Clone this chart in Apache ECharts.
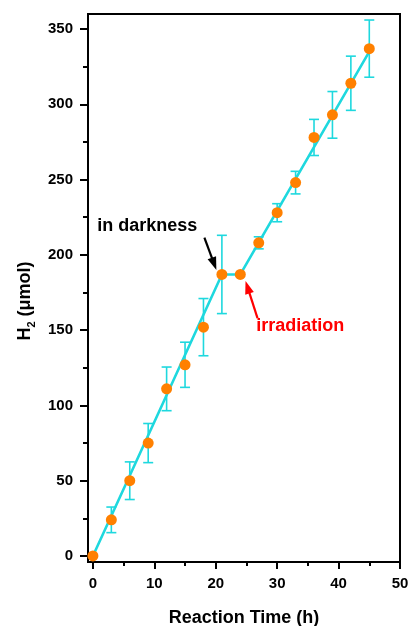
<!DOCTYPE html>
<html>
<head>
<meta charset="utf-8">
<script src="https://cdn.jsdelivr.net/npm/echarts@6/dist/echarts.min.js"></script>
<style>
html,body{margin:0;padding:0;background:#fff;}
#chart{width:409px;height:626px;}
</style>
</head>
<body>
<div id="chart"></div>
<script>
// ---- data ----
var times = [0, 3, 6, 9, 12, 15, 18, 21, 24, 27, 30, 33, 36, 39, 42, 45];
var h2 = [0, 24, 50, 75, 111, 127, 152, 187, 187, 208, 228, 248, 278, 293, 314, 337];
var errs = [0, 8.5, 12.5, 13, 14.5, 15, 19, 26, 0, 4, 6, 7.5, 12, 15.5, 18, 19];
// fitted line segments (dark period flat)
var fitX = [0, 21, 24, 45];
var fitY = [0, 187, 187, 335];
var xMajor = [0, 10, 20, 30, 40, 50];
var xMinor = [5, 15, 25, 35, 45];
var yMajor = [0, 50, 100, 150, 200, 250, 300, 350];
var yMinor = [25, 75, 125, 175, 225, 275, 325];
var annTexts = ['in darkness', 'irradiation'];
var annPos = [[0.7, 219], [26.6, 153]];
var arrowFrom = [[18.15, 211.5], [26.8, 158]];
var arrowTo = [[20.1, 190], [24.85, 182.7]];

var CYAN = '#1ED8DE';
var ORANGE = '#FF8000';
var FONT = 'Liberation Sans, Arial, sans-serif';
var ANN_COLORS = ['#000000', '#FF0000'];

var pts = times.map(function (t, i) { return [t, h2[i]]; });
var errData = times.map(function (t, i) { return [t, h2[i] - errs[i], h2[i] + errs[i]]; });
var fitData = fitX.map(function (x, i) { return [x, fitY[i]]; });
var arrowData = arrowFrom.map(function (p, i) { return [p[0], p[1], arrowTo[i][0], arrowTo[i][1], i]; });
var annData = annPos.map(function (p, i) { return [p[0], p[1], i]; });

var chart = echarts.init(document.getElementById('chart'), null, {renderer: 'canvas'});

var baseX = {type: 'value', min: -0.8, max: 50, gridIndex: 0, splitLine: {show: false}};
var baseY = {type: 'value', min: -4, max: 360, gridIndex: 0, splitLine: {show: false}};

chart.setOption({
  animation: false,
  backgroundColor: '#fff',
  grid: {left: 88, right: 9, top: 14, bottom: 64, show: true, borderColor: '#000', borderWidth: 2,
         containLabel: false, outerBoundsMode: 'none'},
  xAxis: [
    Object.assign({}, baseX, {
      position: 'bottom',
      name: 'Reaction Time (h)', nameLocation: 'middle', nameGap: 47,
      nameTextStyle: {fontFamily: FONT, fontWeight: 'bold', fontSize: 18, color: '#000'},
      axisLine: {show: true, onZero: false, lineStyle: {color: '#000', width: 2}},
      axisTick: {show: true, inside: false, length: 7, lineStyle: {color: '#000', width: 2}, customValues: xMajor},
      axisLabel: {show: true, margin: 14, fontFamily: FONT, fontWeight: 'bold', fontSize: 15, color: '#000', customValues: xMajor}
    }),
    Object.assign({}, baseX, {
      position: 'bottom',
      axisLine: {show: false, onZero: false},
      axisTick: {show: true, inside: false, length: 4, lineStyle: {color: '#000', width: 2}, customValues: xMinor},
      axisLabel: {show: false}
    })
  ],
  yAxis: [
    Object.assign({}, baseY, {
      position: 'left',
      name: '{a|H}{s|2}{a| (μmol)}', nameLocation: 'middle', nameGap: 51,
      nameTextStyle: {
        fontFamily: FONT, fontWeight: 'bold', fontSize: 18, color: '#000',
        padding: [0, 26, 0, 0],
        rich: {
          a: {fontFamily: FONT, fontWeight: 'bold', fontSize: 18, color: '#000', lineHeight: 24},
          s: {fontFamily: FONT, fontWeight: 'bold', fontSize: 11, color: '#000', lineHeight: 12, verticalAlign: 'bottom'}
        }
      },
      axisLine: {show: true, onZero: false, lineStyle: {color: '#000', width: 2}},
      axisTick: {show: true, inside: false, length: 8, lineStyle: {color: '#000', width: 2}, customValues: yMajor},
      axisLabel: {show: true, margin: 15, fontFamily: FONT, fontWeight: 'bold', fontSize: 15, color: '#000', customValues: yMajor}
    }),
    Object.assign({}, baseY, {
      position: 'left',
      axisLine: {show: false, onZero: false},
      axisTick: {show: true, inside: false, length: 5, lineStyle: {color: '#000', width: 2}, customValues: yMinor},
      axisLabel: {show: false}
    })
  ],
  series: [
    {
      type: 'line', xAxisIndex: 0, yAxisIndex: 0,
      data: fitData, showSymbol: false, symbol: 'none',
      lineStyle: {color: CYAN, width: 2.6}, z: 2
    },
    {
      type: 'custom', xAxisIndex: 0, yAxisIndex: 0, z: 3,
      data: errData,
      renderItem: function (params, api) {
        var x = api.value(0);
        var lo = api.coord([x, api.value(1)]);
        var hi = api.coord([x, api.value(2)]);
        if (Math.abs(lo[1] - hi[1]) < 0.5) return {type: 'group', children: []};
        var hw = 5;
        var st = {stroke: CYAN, lineWidth: 1.6};
        return {
          type: 'group',
          children: [
            {type: 'line', shape: {x1: hi[0], y1: hi[1], x2: lo[0], y2: lo[1]}, style: st},
            {type: 'line', shape: {x1: hi[0] - hw, y1: hi[1], x2: hi[0] + hw, y2: hi[1]}, style: st},
            {type: 'line', shape: {x1: lo[0] - hw, y1: lo[1], x2: lo[0] + hw, y2: lo[1]}, style: st}
          ]
        };
      }
    },
    {
      type: 'scatter', xAxisIndex: 0, yAxisIndex: 0, z: 4,
      data: pts, symbol: 'circle', symbolSize: 11,
      itemStyle: {color: ORANGE, borderWidth: 0, opacity: 1}
    },
    {
      // annotation arrows
      type: 'custom', xAxisIndex: 0, yAxisIndex: 0, z: 5, silent: true,
      data: arrowData,
      renderItem: function (params, api) {
        var a = api.coord([api.value(0), api.value(1)]);
        var b = api.coord([api.value(2), api.value(3)]);
        var col = ANN_COLORS[api.value(4)];
        var dx = b[0] - a[0], dy = b[1] - a[1];
        var len = Math.sqrt(dx * dx + dy * dy);
        var ux = dx / len, uy = dy / len;
        var hl = 13, hw = 4.5;
        var bx = b[0] - ux * hl, by = b[1] - uy * hl;
        return {
          type: 'group',
          children: [
            {type: 'line', shape: {x1: a[0], y1: a[1], x2: bx + ux * 2, y2: by + uy * 2}, style: {stroke: col, lineWidth: 2.2}},
            {type: 'polygon', shape: {points: [[b[0], b[1]], [bx - uy * hw, by + ux * hw], [bx + uy * hw, by - ux * hw]]},
             style: {fill: col}}
          ]
        };
      }
    },
    {
      // annotation texts
      type: 'custom', xAxisIndex: 0, yAxisIndex: 0, z: 6, silent: true,
      data: annData,
      renderItem: function (params, api) {
        var p = api.coord([api.value(0), api.value(1)]);
        var i = api.value(2);
        return {
          type: 'text',
          x: p[0], y: p[1],
          style: {
            text: annTexts[i], fill: ANN_COLORS[i],
            font: 'bold 18px ' + FONT,
            textAlign: 'left', textVerticalAlign: 'middle'
          }
        };
      }
    }
  ]
});
</script>
</body>
</html>
